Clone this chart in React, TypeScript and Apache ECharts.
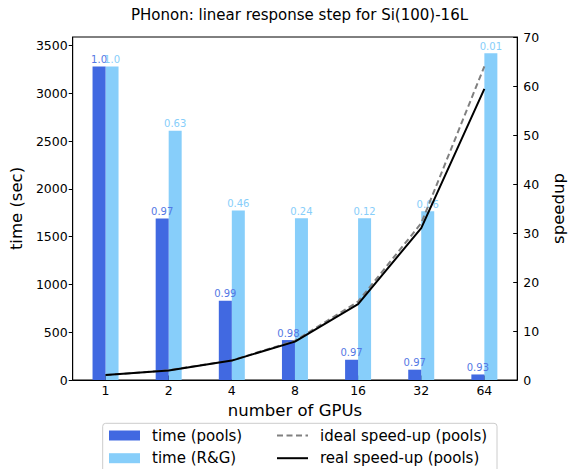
import React, { useEffect, useRef } from "react";
import * as echarts from "echarts";

const gpus = ["1", "2", "4", "8", "16", "32", "64"];
const timePools = [3280, 1690, 830, 418, 212, 108, 58];
const timeRG = [3280, 2610, 1775, 1693, 1693, 1765, 3420];
const effPools = ["1.0", "0.97", "0.99", "0.98", "0.97", "0.97", "0.93"];
const effRG = ["1.0", "0.63", "0.46", "0.24", "0.12", "0.06", "0.01"];
const speedupIdeal = [1, 2, 4, 8, 16, 32, 64];
const speedupReal = [1, 1.94, 3.96, 7.84, 15.5, 31.0, 59.4];
const timeTicks = [0, 500, 1000, 1500, 2000, 2500, 3000, 3500];

const FONT = "DejaVu Sans";

export default function App() {
  const ref = useRef<HTMLDivElement>(null);
  useEffect(() => {
    if (!ref.current) return;
    const chart = echarts.init(ref.current, null, { renderer: "svg" });
    const idx = gpus.map((_, i) => i);
    const option: any = {
      animation: false,
      textStyle: { fontFamily: FONT, color: "#000" },
      grid: {
        left: 70,
        right: 46,
        top: 37,
        bottom: 89,
        show: true,
        borderColor: "#000",
        borderWidth: 1,
        containLabel: false,
      },
      graphic: [
        {
          type: "text",
          x: 299.5,
          y: 15,
          style: {
            text: "PHonon: linear response step for Si(100)-16L",
            align: "center",
            verticalAlign: "middle",
            fontSize: 15,
            fontFamily: FONT,
            fill: "#000",
          },
        },
        {
          type: "rect",
          shape: { x: 102.7, y: 423.3, width: 394.3, height: 60, r: 3 },
          style: { fill: "rgba(255,255,255,0.8)", stroke: "#cccccc", lineWidth: 1 },
          z: 0,
        },
      ],
      legend: [
        {
          orient: "vertical",
          left: 109,
          top: 427,
          padding: 0,
          itemWidth: 31,
          itemHeight: 10,
          itemGap: 5.7,
          icon: "rect",
          data: ["time (pools)", "time (R&G)"],
          textStyle: { fontSize: 15, fontFamily: FONT, color: "#000", lineHeight: 17, padding: [0, 0, 0, 7] },
        },
        {
          orient: "vertical",
          left: 276,
          top: 427,
          padding: 0,
          itemWidth: 31,
          itemHeight: 10,
          itemGap: 5.7,
          itemStyle: { opacity: 0, borderWidth: 0 },
          data: ["ideal speed-up (pools)", "real speed-up (pools)"],
          textStyle: { fontSize: 15, fontFamily: FONT, color: "#000", lineHeight: 17, padding: [0, 0, 0, 7] },
        },
      ],
      xAxis: {
        type: "value",
        min: -0.52,
        max: 6.52,
        name: "number of GPUs",
        nameLocation: "middle",
        nameGap: 22,
        nameTextStyle: { fontSize: 16.5, fontFamily: FONT, color: "#000" },
        axisLine: { show: true, onZero: false, lineStyle: { color: "#000", width: 1 } },
        axisTick: { show: true, inside: true, length: 4.5, customValues: idx, lineStyle: { color: "#000" } },
        axisLabel: {
          customValues: idx,
          formatter: (v: number) => gpus[Math.round(v)] ?? "",
          fontSize: 12.5,
          fontFamily: FONT,
          color: "#000",
          margin: 4,
        },
        splitLine: { show: false },
      },
      yAxis: [
        {
          type: "value",
          min: 0,
          max: 3590,
          name: "time (sec)",
          nameLocation: "middle",
          nameGap: 42,
          nameTextStyle: { fontSize: 16.5, fontFamily: FONT, color: "#000" },
          axisLine: { show: true, onZero: false, lineStyle: { color: "#000", width: 1 } },
          axisTick: { show: true, inside: false, length: 4, customValues: timeTicks, lineStyle: { color: "#000" } },
          axisLabel: {
            customValues: timeTicks,
            formatter: (v: number) => String(v),
            fontSize: 12.5,
            fontFamily: FONT,
            color: "#000",
            margin: 5,
          },
          splitLine: { show: false },
        },
        {
          type: "value",
          position: "right",
          min: 0,
          max: 70,
          interval: 10,
          name: "speedup",
          nameLocation: "middle",
          nameRotate: 90,
          nameGap: 22,
          nameTextStyle: { fontSize: 16.5, fontFamily: FONT, color: "#000" },
          axisLine: { show: true, onZero: false, lineStyle: { color: "#000", width: 1 } },
          axisTick: { show: true, inside: true, length: 4, lineStyle: { color: "#000" } },
          axisLabel: { formatter: (v: number) => String(v), fontSize: 12.5, fontFamily: FONT, color: "#000", margin: 6 },
          splitLine: { show: false },
        },
      ],
      series: [
        {
          name: "time (pools)",
          type: "bar",
          yAxisIndex: 0,
          barWidth: 13,
          barGap: "0%",
          data: timePools.map((v, i) => [i, v]),
          itemStyle: { color: "#4169E1" },
          label: {
            show: true,
            position: "top",
            distance: 2,
            fontSize: 10,
            fontFamily: FONT,
            color: "#5478e4",
            formatter: (p: any) => effPools[p.dataIndex],
          },
          z: 3,
        },
        {
          name: "time (R&G)",
          type: "bar",
          yAxisIndex: 0,
          barWidth: 13,
          barGap: "0%",
          data: timeRG.map((v, i) => [i, v]),
          itemStyle: { color: "#87CEFA" },
          label: {
            show: true,
            position: "top",
            distance: 2,
            fontSize: 10,
            fontFamily: FONT,
            color: "#87CEFA",
            formatter: (p: any) => effRG[p.dataIndex],
          },
          z: 2,
        },
        {
          name: "ideal speed-up (pools)",
          type: "line",
          yAxisIndex: 1,
          symbol: "none",
          data: speedupIdeal.map((v, i) => [i, v]),
          lineStyle: { color: "#808080", width: 2, type: [6, 3.5] },
          itemStyle: { color: "#808080" },
          z: 5,
        },
        {
          name: "real speed-up (pools)",
          type: "line",
          yAxisIndex: 1,
          symbol: "none",
          data: speedupReal.map((v, i) => [i, v]),
          lineStyle: { color: "#000", width: 2 },
          itemStyle: { color: "#000" },
          z: 6,
        },
      ],
    };
    chart.setOption(option);
    return () => chart.dispose();
  }, []);
  return (
    <div
      ref={ref}
      style={{ position: "fixed", left: 0, top: 0, width: 575, height: 469, background: "#fff" }}
    />
  );
}
